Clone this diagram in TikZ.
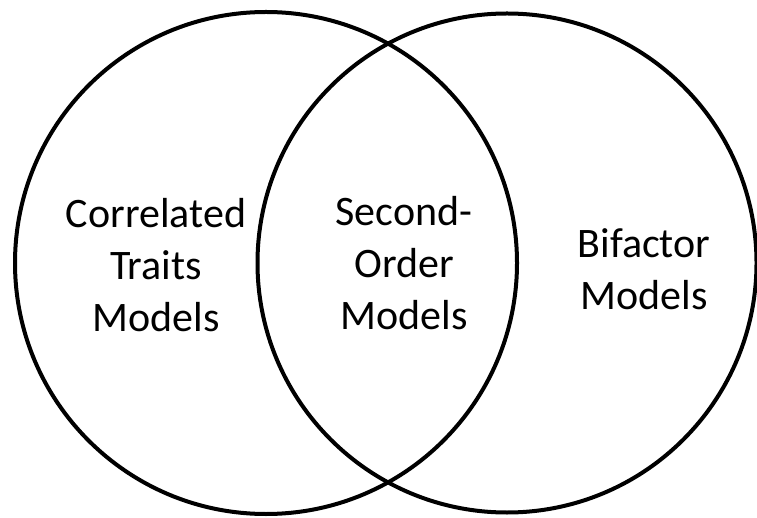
\documentclass[tikz,border=0pt]{standalone}
\usepackage{fontspec}
\setmainfont{Carlito}
\begin{document}
\begin{tikzpicture}[x=1pt,y=-1pt,
  ring/.style={draw=black,line width=4pt},
  label/.style={inner sep=0pt,align=center,font=\fontsize{42}{52}\selectfont}]
\useasboundingbox (0,0) rectangle (757,518);
\draw[ring] (266,263) circle[radius=251];
\draw[ring] (507,263) circle[radius=249.5];
\node[label] (ct) at (156,265) {Correlated\\Traits\\Models};
\node[label] (so) at (404,263) {Second-\\Order\\Models};
\node[label] (bf) at (644,269) {Bifactor\\Models};
\end{tikzpicture}
\end{document}
